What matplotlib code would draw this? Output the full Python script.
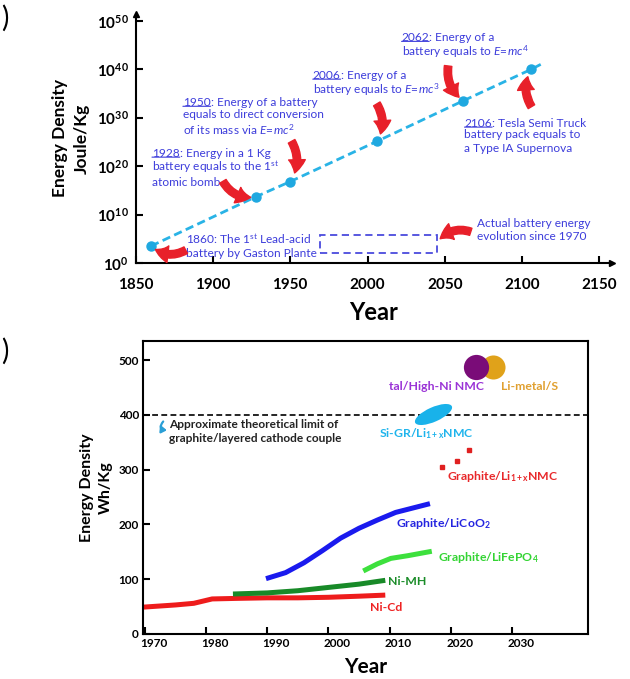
import matplotlib.pyplot as plt
from matplotlib.patches import Rectangle
from matplotlib.path import Path
from matplotlib.transforms import Affine2D, ScaledTranslation

plt.rcParams['font.family'] = ['Lato', 'DejaVu Sans']
plt.rcParams['mathtext.fontset'] = 'custom'
plt.rcParams['mathtext.rm'] = 'Lato'
plt.rcParams['mathtext.it'] = 'Lato:italic'
plt.rcParams['mathtext.bf'] = 'Lato:bold'

# ---- panel a data (log10 of J/kg) ----
mile_years = [1860, 1928, 1950, 2006, 2062, 2106]
mile_log = [3.5, 13.7, 16.8, 25.1, 33.5, 40.0]
trend_end_year = 2112
trend_end_log = 41.0
actual_years = [1969, 2045]
actual_log = [2.1, 5.8]
a_xticks = [1850, 1900, 1950, 2000, 2050, 2100, 2150]
a_yexp = [0, 10, 20, 30, 40, 50]

# ---- panel b data (Wh/kg) ----
nicd_years = [1969.7, 1975, 1978, 1981, 1985, 1990, 1995, 2000, 2005, 2009.3]
nicd_wh = [49, 53, 56, 64, 65, 66, 66, 67, 69, 71]
nimh_years = [1984.4, 1990, 1995, 2000, 2005, 2009.3]
nimh_wh = [73, 75, 79, 85, 91, 98]
licoo2_years = [1989.8, 1993, 1996, 1999, 2002, 2005, 2008, 2011, 2016.6]
licoo2_wh = [101, 112, 130, 152, 175, 193, 208, 222, 238]
lifepo4_years = [2005.7, 2008, 2010.2, 2013, 2016.9]
lifepo4_wh = [115, 128, 138, 143, 151]
nmc_years = [2018.5, 2021, 2023]
nmc_wh = [304, 316, 336]
sigr_year, sigr_wh = 2017.1, 401
hinmc_year, hinmc_wh = 2024.1, 487
lis_year, lis_wh = 2026.9, 487
limit_wh = 400
b_xticks = [1970, 1980, 1990, 2000, 2010, 2020, 2030]
b_yticks = [0, 100, 200, 300, 400, 500]

txt_blue = '#3d3ddb'
arrow_red = '#e8202a'
line_cyan = '#29b3e6'

fig = plt.figure(figsize=(6.3, 6.79), dpi=100)

# ================= panel a =================
ax = fig.add_axes([0.2152, 0.6127, 0.756, 0.3667])
ax.set_yscale('log')
ax.plot(mile_years + [trend_end_year], [10 ** v for v in mile_log + [trend_end_log]],
        color=line_cyan, lw=2, dashes=(3, 1.6), zorder=2)
ax.plot(mile_years, [10 ** v for v in mile_log], 'o', color='#1fa8e0', ms=6.5, zorder=3)
ax.set_xlim(1850, 2158)
ax.set_ylim(1, 10 ** 51.4)
ax.set_xticks(a_xticks)
ax.set_xticklabels([str(t) for t in a_xticks], fontsize=11, fontweight='bold')
ax.set_yticks([10.0 ** e for e in a_yexp])
ax.set_yticklabels([r'$\mathbf{10^{%d}}$' % e for e in a_yexp], fontsize=11)
ax.minorticks_off()
ax.tick_params(direction='in', length=5, width=1.5, pad=5)
ax.tick_params(axis='x', pad=11)
for s in ['top', 'right']:
    ax.spines[s].set_visible(False)
for s in ['left', 'bottom']:
    ax.spines[s].set_linewidth(1.5)
ax.plot([1], [0], '>', color='k', ms=5, transform=ax.transAxes, clip_on=False)
ax.plot([0], [1], '^', color='k', ms=5, transform=ax.transAxes, clip_on=False)
ax.set_xlabel('Year', fontsize=17, fontweight='bold', labelpad=6)
ax.set_ylabel('Energy Density\nJoule/Kg', fontsize=12.5, fontweight='bold', labelpad=5,
              linespacing=1.45)

ax.add_patch(Rectangle((actual_years[0], 10 ** actual_log[0]),
                       actual_years[1] - actual_years[0],
                       10 ** actual_log[1] - 10 ** actual_log[0],
                       fill=False, edgecolor='#4b4bdd', lw=1.3, ls=(0, (4, 2.5))))

style = dict(fontsize=8.6, color=txt_blue)


def milestone_text(x, logy, year, first, rest):
    ty = ax.text(x, 10 ** logy, year, va='top', ha='left', **style)
    ax.annotate(first, xy=(1, 0), xycoords=ty, va='bottom', ha='left', **style)
    ax.annotate(rest, xy=(0, 0), xycoords=ty, xytext=(0, -0.5), textcoords='offset points',
                va='top', ha='left', linespacing=1.25, **style)
    ax.annotate('', xy=(0, 0.14), xycoords=ty, xytext=(1, 0.14), textcoords=ty,
                arrowprops=dict(arrowstyle='-', color=txt_blue, lw=0.8, shrinkA=0, shrinkB=0))


milestone_text(1860.6, 23.8, '1928', ': Energy in a 1 Kg',
               r'battery equals to the 1$^{\mathrm{st}}$' + '\n' + 'atomic bomb')
milestone_text(1880.6, 34.3, '1950', ': Energy of a battery',
               'equals to direct conversion\n' + r'of its mass via $E\!=\!mc^2$')
milestone_text(1964.6, 39.9, '2006', ': Energy of a', r'battery equals to $E\!=\!mc^3$')
milestone_text(2022.0, 47.7, '2062', ': Energy of a', r'battery equals to $E\!=\!mc^4$')
milestone_text(2062.7, 30.0, '2106', ': Tesla Semi Truck',
               'battery pack equals to\na Type IA Supernova')
ax.text(1882.5, 10 ** 6.4, r'1860: The 1$^{\mathrm{st}}$ Lead-acid' + '\n'
        + 'battery by Gaston Plante', va='top', ha='left', linespacing=1.25, **style)
ax.text(2070.5, 10 ** 9.3, 'Actual battery energy\nevolution since 1970',
        va='top', ha='left', linespacing=1.25, **style)

red_style = 'simple,head_length=0.8,head_width=1.0,tail_width=0.45'


def red_arrow(x, logy, dx, dy, rad, shrink):
    ax.annotate('', xy=(x, 10 ** logy), xytext=(dx, dy), textcoords='offset points',
                arrowprops=dict(arrowstyle=red_style, color=arrow_red,
                                connectionstyle='arc3,rad=%s' % rad,
                                shrinkA=0, shrinkB=shrink, mutation_scale=12))


red_arrow(mile_years[0], mile_log[0], 25, -3, -0.35, 4)
red_arrow(mile_years[1], mile_log[1], -24, 11, 0.35, 4)
red_arrow(mile_years[2], mile_log[2], 1, 29, -0.3, 7)
red_arrow(mile_years[3], mile_log[3], 0, 27, -0.3, 6)
red_arrow(mile_years[4], mile_log[4], -11, 25, 0.3, 4)
red_arrow(mile_years[5], mile_log[5], 0, -27, -0.3, 6)
ax.annotate('', xy=(actual_years[1] + 2, 10 ** 5.0), xytext=(22, 5), textcoords='offset points',
            arrowprops=dict(arrowstyle=red_style, color=arrow_red,
                            connectionstyle='arc3,rad=0.3',
                            shrinkA=0, shrinkB=0, mutation_scale=12))

# ================= panel b =================
bx = fig.add_axes([0.227, 0.0663, 0.706, 0.4315])
bx.plot(nicd_years, nicd_wh, color='#ee1c1c', lw=3.6, solid_capstyle='butt')
bx.plot(nimh_years, nimh_wh, color='#188a28', lw=3.6, solid_capstyle='butt')
bx.plot(licoo2_years, licoo2_wh, color='#1a1aee', lw=3.6, solid_capstyle='butt')
bx.plot(lifepo4_years, lifepo4_wh, color='#3de03d', lw=3.6, solid_capstyle='butt')
bx.plot(nmc_years, nmc_wh, 's', color='#e02020', ms=2.8, ls='none')
bx.axhline(limit_wh, color='k', lw=1.2, dashes=(3.5, 2))
ell = Path.unit_circle().transformed(Affine2D().scale(1, 0.36).rotate_deg(24))
bx.scatter([sigr_year], [sigr_wh], marker=ell, s=760, color='#19b2ea', lw=0, zorder=3)
bx.scatter([lis_year], [lis_wh], s=300, color='#e0a21a', lw=0, zorder=3)
bx.scatter([hinmc_year], [hinmc_wh], s=330, color='#7a0c78', lw=0, zorder=4)

bx.set_xlim(1969.7, 2042.4)
bx.set_ylim(0, 535)
bx.set_xticks(b_xticks)
bx.set_xticklabels([str(t) for t in b_xticks], fontsize=8.5, fontweight='bold')
bx.set_yticks(b_yticks)
bx.set_yticklabels([str(t) for t in b_yticks], fontsize=8.5, fontweight='bold')
bx.tick_params(direction='in', length=5, width=1.5, pad=3)
for lab in bx.get_xticklabels():
    lab.set_transform(lab.get_transform() + ScaledTranslation(0.09, 0, fig.dpi_scale_trans))
for s in bx.spines.values():
    s.set_linewidth(1.5)
bx.set_xlabel('Year', fontsize=15, fontweight='bold', labelpad=6)
bx.set_ylabel('Energy Density\nWh/Kg', fontsize=11.5, fontweight='bold', labelpad=4,
              linespacing=1.45)

bkw = dict(fontsize=8.8, fontweight='bold', va='center', ha='left')
bx.text(1974.0, 392, 'Approximate theoretical limit of\ngraphite/layered cathode couple',
        fontsize=8.6, fontweight='bold', color='#222222', ha='left', va='top', linespacing=1.3)
bx.annotate('', xy=(1973.6, 372), xytext=(1973.0, 388),
            arrowprops=dict(arrowstyle='-|>,head_length=0.3,head_width=0.2', color='#2a9fd6',
                            lw=1.6, connectionstyle='arc3,rad=0.9', shrinkA=0, shrinkB=0))
bx.text(2025.4, 452, 'tal/High-Ni NMC', color='#9a33d6', **dict(bkw, ha='right'))
bx.text(2028.2, 452, 'Li-metal/S', color='#e0a030', **bkw)
bx.text(2008.3, 365, r'Si-GR/Li$_{\mathbf{1+x}}$NMC', color='#1eb4ec', **bkw)
bx.text(2019.4, 288, r'Graphite/Li$_{\mathbf{1+x}}$NMC', color='#e8282a', **bkw)
bx.text(2011.0, 202, r'Graphite/LiCoO$_{\mathbf{2}}$', color='#2424e0', **bkw)
bx.text(2017.9, 140, r'Graphite/LiFePO$_{\mathbf{4}}$', color='#33d433', **bkw)
bx.text(2009.7, 95, 'Ni-MH', color='#1a8c28', **bkw)
bx.text(2006.8, 49, 'Ni-Cd', color='#ee2222', **bkw)

fig.text(0.002, 0.973, ')', fontsize=20, ha='left', va='center')
fig.text(0.002, 0.482, ')', fontsize=20, ha='left', va='center')

fig.savefig('out.png', dpi=100)
